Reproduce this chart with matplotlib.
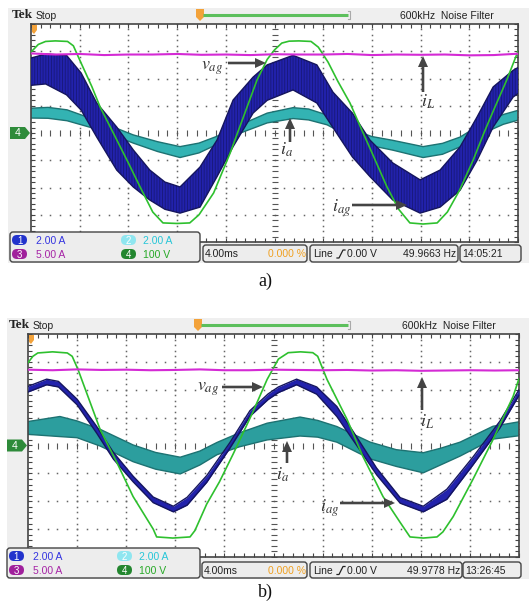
import matplotlib
matplotlib.use('Agg')
import matplotlib.pyplot as plt
import numpy as np
from matplotlib.patches import Rectangle, FancyBboxPatch, Polygon

plt.rcParams['mathtext.fontset'] = 'stix'
plt.rcParams['hatch.linewidth'] = 0.6

W, H = 529, 601

# ---------------- data (screen divisions: time 0..10, amplitude -4..4) ----------------
# Panel a
ga_t = [0, 0.15, 0.3, 0.5, 0.75, 0.87, 1.0, 1.25, 1.42, 1.69, 2.0, 2.24, 2.5, 2.71, 3.0, 3.26, 3.45, 3.75,
        4.09, 4.24, 4.5, 4.64, 4.85, 5.0, 5.15, 5.3, 5.5, 5.75, 5.9, 6.1, 6.3, 6.55, 6.82, 7.0, 7.31, 7.55,
        7.78, 8.05, 8.34, 8.55, 8.8, 9.08, 9.3, 9.49, 9.77, 10.0]
ga_v = [2.97, 3.25, 3.36, 3.38, 3.36, 3.2, 2.68, 1.7, 0.95, 0.0, -1.1, -1.98, -2.9, -3.3, -3.32, -3.3, -3.0, -2.2,
        -0.73, 0.0, 1.26, 1.94, 2.7, 3.05, 3.3, 3.37, 3.38, 3.36, 3.15, 2.6, 1.9, 1.1, 0.0, -0.72, -1.98, -2.8,
        -3.3, -3.34, -3.3, -2.9, -2.1, -0.99, 0.0, 0.8, 1.95, 3.0]

ma_t = [0, 0.5, 1.0, 1.5, 2.0, 2.5, 3.0, 3.5, 4.0, 4.5, 5.0, 5.5, 6.0, 6.5, 7.0, 7.5, 8.0, 8.5, 9.0, 9.5, 10.0]
ma_v = [2.92, 2.88, 2.9, 2.86, 2.88, 2.88, 2.9, 2.87, 2.88, 2.86, 2.89, 2.88, 2.88, 2.9, 2.86, 2.88, 2.87, 2.88,
        2.85, 2.86, 2.91]

ba_t = [0.0, 0.3, 0.73, 1.03, 1.35, 1.76, 2.1, 2.44, 2.75, 3.06, 3.47, 3.82, 4.15, 4.56, 4.85, 5.38, 5.87,
        6.2, 6.6, 6.96, 7.43, 7.99, 8.4, 8.81, 9.16, 9.49, 9.9, 10.0]
ba_up = [2.75, 2.9, 2.85, 2.2, 1.1, 0.22, -0.62, -1.36, -1.8, -1.98, -1.25, -0.26, 1.21, 2.05, 2.5, 2.85, 2.5,
         1.5, 0.73, -0.26, -1.1, -1.72, -1.36, -0.51, 0.59, 1.69, 2.3, 2.4]
ba_lo = [1.75, 1.8, 1.4, 0.84, -0.15, -1.36, -1.98, -2.46, -2.8, -2.94, -2.72, -1.6, -0.5, 0.73, 1.2, 1.58, 1.1,
         0.2, -0.88, -1.6, -2.46, -2.94, -2.72, -2.1, -1.0, 0.22, 1.32, 1.45]

ca_t = [0, 0.35, 0.74, 1.35, 2.1, 2.6, 3.06, 3.45, 3.82, 4.3, 4.85, 5.38, 5.7, 6.08, 6.75, 7.0, 7.43, 8.05,
        8.45, 8.81, 9.36, 9.7, 10.0]
ca_c = [0.73, 0.74, 0.65, 0.3, -0.22, -0.5, -0.7, -0.55, -0.27, 0.15, 0.55, 0.73, 0.68, 0.48, -0.15, -0.3,
        -0.45, -0.7, -0.58, -0.33, 0.25, 0.5, 0.65]
ca_h = [0.18, 0.2, 0.2, 0.16, 0.15, 0.18, 0.2, 0.18, 0.15, 0.15, 0.18, 0.2, 0.2, 0.18, 0.18, 0.17, 0.18, 0.2,
        0.2, 0.18, 0.2, 0.18, 0.18]

# Panel b
gb_t = [0, 0.1, 0.2, 0.5, 0.8, 0.9, 1.02, 1.47, 1.81, 2.14, 2.55, 2.62, 2.95, 3.3, 3.4, 3.64, 3.9, 4.18, 4.58,
        4.87, 5.1, 5.3, 5.55, 5.8, 5.9, 6.09, 6.5, 6.82, 7.23, 7.58, 7.78, 8.05, 8.33, 8.45, 8.66, 9.06, 9.47,
        9.88, 10.0]
gb_v = [2.97, 3.2, 3.32, 3.36, 3.32, 3.2, 2.72, 0.57, -0.61, -1.83, -3.0, -3.28, -3.32, -3.28, -3.05, -2.1,
        -1.3, -0.3, 1.2, 2.37, 3.1, 3.33, 3.36, 3.33, 3.2, 2.37, 0.93, -0.39, -1.83, -2.76, -3.28, -3.32, -3.28,
        -3.1, -2.55, -1.22, 0.21, 1.76, 2.4]

mb_t = [0, 0.5, 1.0, 1.5, 2.0, 2.5, 3.0, 3.5, 4.0, 4.5, 5.0, 5.5, 6.0, 6.5, 7.0, 7.5, 8.0, 8.5, 9.0, 9.5, 10.0]
mb_v = [2.72, 2.7, 2.73, 2.71, 2.72, 2.7, 2.71, 2.73, 2.7, 2.7, 2.72, 2.71, 2.7, 2.71, 2.69, 2.7, 2.68, 2.69,
        2.7, 2.69, 2.7]

bb_t = [0, 0.38, 0.62, 1.0, 1.4, 1.74, 2.14, 2.55, 2.96, 3.24, 3.64, 4.11, 4.52, 4.89, 5.1, 5.47, 5.88, 6.29,
        6.7, 7.1, 7.58, 8.05, 8.53, 9.06, 9.61, 10.0]
bb_c = [2.02, 2.28, 2.2, 1.56, 0.56, -0.37, -1.2, -1.95, -2.28, -2.0, -1.2, 0.0, 1.15, 1.75, 2.0, 2.28, 1.97,
        1.22, 0.14, -0.93, -1.97, -2.28, -1.75, -0.56, 0.75, 1.9]
bb_h = [0.1, 0.1, 0.1, 0.1, 0.12, 0.12, 0.1, 0.1, 0.1, 0.14, 0.12, 0.1, 0.1, 0.1, 0.1, 0.1, 0.13, 0.18, 0.15,
        0.12, 0.1, 0.1, 0.18, 0.14, 0.12, 0.1]

cb_t = [0, 0.65, 1.0, 1.47, 2.14, 2.6, 3.1, 3.5, 3.85, 4.3, 4.87, 5.54, 5.9, 6.29, 6.97, 7.5, 8.05, 8.4, 8.8,
        9.47, 10.0]
cb_c = [0.63, 0.68, 0.58, 0.28, -0.28, -0.55, -0.72, -0.45, -0.11, 0.2, 0.5, 0.68, 0.6, 0.4, -0.18, -0.45,
        -0.62, -0.4, -0.13, 0.46, 0.6]
cb_h = [0.23, 0.36, 0.3, 0.3, 0.3, 0.3, 0.3, 0.25, 0.22, 0.25, 0.3, 0.34, 0.3, 0.28, 0.3, 0.3, 0.36, 0.3, 0.25,
        0.23, 0.25]

ch_scales = ['2.00 A', '2.00 A', '5.00 A', '100 V']
timebase = '4.00ms'
trig_pos = '0.000 %'
freqs = ['49.9663 Hz', '49.9778 Hz']
clocks = ['14:05:21', '13:26:45']
panel_labels = ['a)', 'b)']

# ---------------- drawing ----------------
SANS = ['Liberation Sans Narrow', 'Liberation Sans', 'DejaVu Sans']

fig = plt.figure(figsize=(W / 100, H / 100), dpi=100)
fig.patch.set_facecolor('white')
bg = fig.add_axes([0, 0, 1, 1], zorder=0)
bg.set_xlim(0, W); bg.set_ylim(H, 0); bg.axis('off')
top = fig.add_axes([0, 0, 1, 1], zorder=5)
top.set_xlim(0, W); top.set_ylim(H, 0); top.axis('off')


def arrow(x0, y0, x1, y1):
    top.arrow(x0, y0, x1 - x0, y1 - y0, width=2.6, head_width=10, head_length=11,
              length_includes_head=True, color='#444444', lw=0, zorder=10)


def oval(x, yc, color, label, tcolor='white'):
    top.add_patch(FancyBboxPatch((x, yc - 5), 15, 10, boxstyle='round,pad=0,rounding_size=5',
                                 fc=color, ec='none', zorder=6))
    top.text(x + 7.5, yc + 0.5, label, color=tcolor, fontsize=7, family=SANS, ha='center', va='center', zorder=7)


def screen(scr, grat, bar_y, tekx, trigx, bar_end, nfx, ch4x, box1, rows, ovx, box2, box3, box4,
           freq, clock, label_xy, label, data):
    sx0, sy0, sx1, sy1 = scr
    bg.add_patch(Rectangle((sx0, sy0), sx1 - sx0, sy1 - sy0, color='#efefef', lw=0))
    gx0, gy0, gx1, gy1 = grat
    ax = fig.add_axes([gx0 / W, 1 - gy1 / H, (gx1 - gx0) / W, (gy1 - gy0) / H], zorder=1)
    ax.set_xlim(0, 10); ax.set_ylim(-4, 4)
    ax.set_facecolor('white')
    xs = np.arange(0, 10.001, 0.2)
    ys = np.arange(-4, 4.001, 0.2)
    for gy in range(-3, 4):
        if gy == 0:
            continue
        ax.plot(xs, np.full_like(xs, gy), ls='none', marker='s', ms=1.1, mew=0, color='#666666', zorder=1)
    for gx in range(1, 10):
        if gx == 5:
            continue
        ax.plot(np.full_like(ys, gx), ys, ls='none', marker='s', ms=1.1, mew=0, color='#666666', zorder=1)
    ax.plot(xs, np.zeros_like(xs), ls='none', marker='|', ms=4.5, mew=0.8, color='#555555', zorder=1)
    ax.plot(np.full_like(ys, 5), ys, ls='none', marker='_', ms=4.5, mew=0.8, color='#555555', zorder=1)
    ax.set_xticks(xs); ax.set_yticks(ys)
    ax.tick_params(direction='in', length=3, width=0.8, color='#444444', top=True, right=True,
                   labelbottom=False, labelleft=False)
    for s in ax.spines.values():
        s.set_color('#444444'); s.set_linewidth(1.2)

    (ct, cc, ch, cface), (bt, bup, blo, bhatch), (gt, gv), (mt, mv) = data
    cc = np.array(cc); ch = np.array(ch)
    ax.fill_between(ct, cc - ch, cc + ch, facecolor=cface, lw=0, zorder=2)
    ax.plot(ct, cc + ch, color='#1d7272', lw=1.0, zorder=2)
    ax.plot(ct, cc - ch, color='#1d7272', lw=1.0, zorder=2)
    ax.fill_between(bt, blo, bup, facecolor='#2222ac', edgecolor='#181878', hatch=bhatch, lw=0, zorder=3)
    ax.plot(bt, bup, color='#15155e', lw=1.0, zorder=3)
    ax.plot(bt, blo, color='#15155e', lw=1.0, zorder=3)
    ax.plot(gt, gv, color='#2ec02e', lw=1.2, zorder=4)
    ax.plot(mt, mv, color='#d42ad4', lw=1.5, zorder=5)

    # top bar
    top.text(tekx, bar_y + 0.5, 'Tek', fontsize=9.5, fontweight='bold', family=['Liberation Serif', 'DejaVu Serif'],
             ha='left', va='center', color='#222222')
    top.text(tekx + 24, bar_y + 1, 'Stop', fontsize=7.5, family=SANS, ha='left', va='center', color='#222222')
    top.plot([trigx + 3, bar_end], [bar_y, bar_y], color='#5cbf5c', lw=2.2, solid_capstyle='butt')
    top.plot([bar_end, bar_end + 2, bar_end + 2, bar_end], [bar_y - 4, bar_y - 4, bar_y + 4, bar_y + 4],
             color='#aaaaaa', lw=0.8)
    top.add_patch(Polygon([(trigx - 4, bar_y - 6), (trigx + 4, bar_y - 6), (trigx + 4, bar_y + 2),
                           (trigx, bar_y + 6), (trigx - 4, bar_y + 2)], closed=True, fc='#f3a23a', ec='none'))
    top.text(nfx, bar_y + 1, '600kHz  Noise Filter', fontsize=7.5, family=SANS, ha='left', va='center',
             color='#222222')
    # orange marker inside graticule
    top.add_patch(Polygon([(gx0 + 1, gy0 + 1), (gx0 + 6, gy0 + 1), (gx0 + 6, gy0 + 6), (gx0 + 3, gy0 + 10),
                           (gx0 + 1, gy0 + 8)], closed=True, fc='#f3a23a', ec='none'))
    # ch4 ground marker
    yc = (gy0 + gy1) / 2
    top.add_patch(Polygon([(ch4x, yc - 6), (ch4x + 15, yc - 6), (ch4x + 20, yc), (ch4x + 15, yc + 6),
                           (ch4x, yc + 6)], closed=True, fc='#2e8b3a', ec='none'))
    top.text(ch4x + 8, yc + 0.5, '4', color='white', fontsize=7.5, family=SANS, ha='center', va='center')

    # readout boxes
    def box(b):
        top.add_patch(FancyBboxPatch((b[0], b[1]), b[2] - b[0], b[3] - b[1],
                                     boxstyle='round,pad=0,rounding_size=3', fc='#ededed', ec='#444444',
                                     lw=1.0, zorder=5))
    for b in (box1, box2, box3, box4):
        box(b)
    r1, r2 = rows
    o1, o2 = ovx
    oval(o1, r1, '#2233cc', '1')
    oval(o2, r1, '#8fe6f0', '2')
    oval(o1, r2, '#a0209c', '3')
    oval(o2, r2, '#23862f', '4')
    tkw = dict(fontsize=7.5, family=SANS, va='center', ha='left', zorder=7)
    top.text(o1 + 24, r1 + 0.5, ch_scales[0], color='#3434e0', **tkw)
    top.text(o2 + 22, r1 + 0.5, ch_scales[1], color='#26c6d8', **tkw)
    top.text(o1 + 24, r2 + 0.5, ch_scales[2], color='#a624a6', **tkw)
    top.text(o2 + 22, r2 + 0.5, ch_scales[3], color='#26a826', **tkw)
    ym = (box2[1] + box2[3]) / 2 + 0.5
    top.text(box2[0] + 2, ym, timebase, color='#222222', **tkw)
    top.text(box2[2] - 1, ym, trig_pos, color='#f0a020', fontsize=7.5, family=SANS, va='center', ha='right',
             zorder=7)
    top.text(box3[0] + 3, ym, 'Line', color='#222222', **tkw)
    sx = box3[0] + 27
    top.plot([sx, sx + 2, sx + 6, sx + 8], [ym + 4, ym + 4, ym - 4, ym - 4], color='#222222', lw=0.9, zorder=7)
    top.text(sx + 10, ym, '0.00 V', color='#222222', **tkw)
    top.text(box3[2] - 2, ym, freq, color='#222222', fontsize=7.5, family=SANS, va='center', ha='right', zorder=7)
    top.text(box4[0] + 2, ym, clock, color='#222222', **tkw)

    top.text(label_xy[0], label_xy[1], label, fontsize=13, family=['Liberation Serif', 'DejaVu Serif'],
             ha='center', va='center', color='#111111')
    return ax


screen(scr=(8, 8, 529, 263), grat=(31, 24, 518, 242), bar_y=15, tekx=12, trigx=200, bar_end=348, nfx=400,
       ch4x=10, box1=(10, 232, 200, 262), rows=(240, 254), ovx=(12, 121), box2=(203, 245, 307, 262),
       box3=(310, 245, 458, 262), box4=(460, 245, 521, 262), freq=freqs[0], clock=clocks[0],
       label_xy=(265, 281), label=panel_labels[0],
       data=((ca_t, ca_c, ca_h, '#33b3b3'), (ba_t, ba_up, ba_lo, '||||||'), (ga_t, ga_v), (ma_t, ma_v)))

bb_c_arr = np.array(bb_c); bb_h_arr = np.array(bb_h)
screen(scr=(7, 318, 529, 579), grat=(28, 334, 519, 557), bar_y=325, tekx=9, trigx=198, bar_end=348, nfx=402,
       ch4x=7, box1=(7, 548, 200, 578), rows=(556, 570), ovx=(9, 117), box2=(202, 562, 307, 578),
       box3=(310, 562, 462, 578), box4=(463, 562, 521, 578), freq=freqs[1], clock=clocks[1],
       label_xy=(265, 592), label=panel_labels[1],
       data=((cb_t, cb_c, cb_h, '#2c9e9e'), (bb_t, bb_c_arr + bb_h_arr, bb_c_arr - bb_h_arr, None), (gb_t, gb_v),
             (mb_t, mb_v)))

# annotations
LBL = dict(fontsize=13, ha='center', va='center', color='#333333', zorder=11)
# panel a
arrow(228, 63, 266, 63); top.text(212, 68, r'$v_{ag}$', **LBL)
arrow(423, 92, 423, 56); top.text(428, 102, r'$i_{L}$', **LBL)
arrow(290, 142, 290, 118); top.text(287, 150, r'$i_{a}$', **LBL)
arrow(352, 205, 407, 205); top.text(342, 208, r'$i_{ag}$', **LBL)
# panel b
arrow(222, 387, 263, 387); top.text(208, 389, r'$v_{ag}$', **LBL)
arrow(422, 410, 422, 377); top.text(427, 422, r'$i_{L}$', **LBL)
arrow(287, 463, 287, 441); top.text(283, 475, r'$i_{a}$', **LBL)
arrow(340, 503, 395, 503); top.text(330, 508, r'$i_{ag}$', **LBL)

fig.savefig('out.png', dpi=100, facecolor='white')
